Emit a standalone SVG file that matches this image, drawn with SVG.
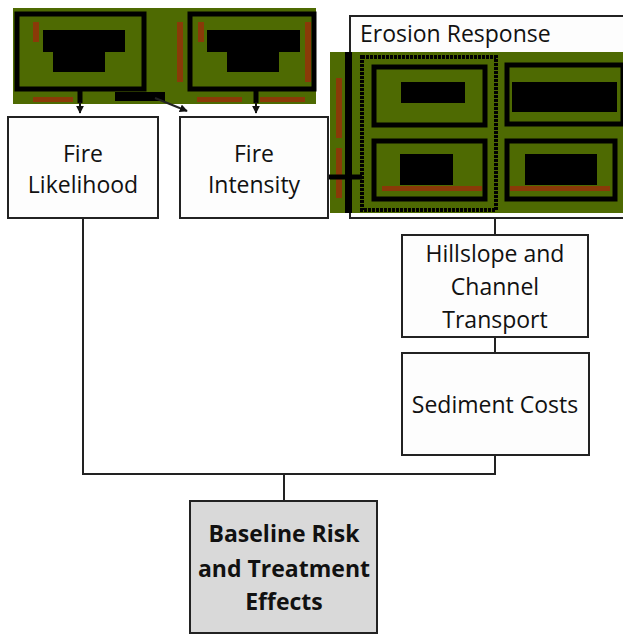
<svg xmlns="http://www.w3.org/2000/svg" width="623" height="635" viewBox="0 0 623 635">
<defs>
<style>
.box{fill:#fdfdfd;stroke:#222;stroke-width:2}
.t{font-family:"Open Sans","Liberation Sans",sans-serif;font-size:23px;fill:#111;text-anchor:middle}
.b{font-weight:bold}
.ln{fill:none;stroke:#222;stroke-width:2}
.green{fill:#4e6a02}
.frame{fill:none;stroke:#000;stroke-width:5}
.blob{fill:#000}
.rust{fill:#8a3a08}
</style>
<marker id="ah" viewBox="0 0 10 10" refX="9" refY="5" markerWidth="8" markerHeight="8" markerUnits="userSpaceOnUse" orient="auto-start-reverse">
<path d="M0,0 L10,5 L0,10 z" fill="#111"/>
</marker>
</defs>
<rect width="623" height="635" fill="#ffffff"/>

<g id="erosion-response">
<rect class="box" x="350" y="16" width="280" height="202"/>
<text x="360" y="42" class="t" style="text-anchor:start">Erosion Response</text>
</g>

<g id="erosion-inset">
<rect class="green" x="330" y="52" width="293" height="161"/>
<rect class="rust" x="336" y="78" width="6" height="60"/>
<rect class="rust" x="336" y="148" width="6" height="50"/>
<rect x="345" y="52" width="7" height="161" fill="#000"/>
<rect x="362" y="57" width="134" height="153" fill="none" stroke="#000" stroke-width="4" stroke-dasharray="3 1"/>
<rect class="frame" x="374" y="67" width="111" height="58"/>
<rect class="frame" x="507" y="65" width="116" height="59"/>
<rect class="frame" x="374" y="141" width="111" height="58"/>
<rect class="frame" x="507" y="141" width="108" height="58"/>
<rect class="rust" x="382" y="186" width="100" height="5"/>
<rect class="rust" x="510" y="186" width="100" height="5"/>
<rect class="blob" x="401" y="82" width="64" height="21"/>
<rect class="blob" x="512" y="82" width="105" height="30"/>
<rect class="blob" x="400" y="154" width="53" height="31"/>
<rect class="blob" x="525" y="154" width="72" height="31"/>
</g>

<g id="top-inset">
<rect class="green" x="13" y="8" width="303" height="96"/>
<rect class="frame" x="17" y="14" width="127" height="75"/>
<rect class="frame" x="190" y="14" width="124" height="75"/>
<rect class="rust" x="33" y="22" width="6" height="20"/>
<rect class="rust" x="177" y="22" width="6" height="60"/>
<rect class="rust" x="198" y="22" width="6" height="20"/>
<rect class="rust" x="305" y="22" width="6" height="60"/>
<rect class="rust" x="33" y="97" width="40" height="5"/>
<rect class="rust" x="197" y="97" width="45" height="5"/>
<rect class="rust" x="260" y="97" width="45" height="5"/>
<rect class="blob" x="43" y="30" width="82" height="22"/>
<rect class="blob" x="53" y="50" width="52" height="22"/>
<rect class="blob" x="207" y="30" width="93" height="22"/>
<rect class="blob" x="227" y="50" width="52" height="22"/>
<rect class="blob" x="115" y="92" width="50" height="9"/>
</g>

<g id="connectors">
<line class="ln" x1="83" y1="218" x2="83" y2="474"/>
<line class="ln" x1="82" y1="474" x2="496" y2="474"/>
<line class="ln" x1="495" y1="455" x2="495" y2="474"/>
<line class="ln" x1="284" y1="474" x2="284" y2="501"/>
<line class="ln" x1="495" y1="218" x2="495" y2="235"/>
<line class="ln" x1="495" y1="337" x2="495" y2="353"/>
<line x1="328" y1="177" x2="362" y2="177" stroke="#000" stroke-width="5"/>
<line x1="80" y1="88" x2="80" y2="103" stroke="#000" stroke-width="5"/>
<line x1="80" y1="102" x2="80" y2="113" stroke="#111" stroke-width="2" marker-end="url(#ah)"/>
<line x1="256" y1="88" x2="256" y2="103" stroke="#000" stroke-width="5"/>
<line x1="256" y1="102" x2="256" y2="113" stroke="#111" stroke-width="2" marker-end="url(#ah)"/>
<line x1="155" y1="98" x2="187" y2="111" stroke="#222" stroke-width="2" marker-end="url(#ah)"/>
</g>

<g id="fire-likelihood">
<rect class="box" x="8" y="117" width="150" height="101"/>
<text class="t" x="83" y="162">Fire</text>
<text class="t" x="83" y="193">Likelihood</text>
</g>

<g id="fire-intensity">
<rect class="box" x="180" y="117" width="148" height="101"/>
<text class="t" x="254" y="162">Fire</text>
<text class="t" x="254" y="193">Intensity</text>
</g>

<g id="hillslope">
<rect class="box" x="402" y="235" width="186" height="102"/>
<text class="t" x="495" y="262">Hillslope and</text>
<text class="t" x="495" y="295">Channel</text>
<text class="t" x="495" y="328">Transport</text>
</g>

<g id="sediment-costs">
<rect class="box" x="402" y="353" width="187" height="102"/>
<text class="t" x="495" y="413">Sediment Costs</text>
</g>

<g id="baseline">
<rect class="box" x="190" y="501" width="187" height="132" style="fill:#d9d9d9"/>
<text class="t b" x="284" y="542">Baseline Risk</text>
<text class="t b" x="284" y="577">and Treatment</text>
<text class="t b" x="284" y="610">Effects</text>
</g>
</svg>
